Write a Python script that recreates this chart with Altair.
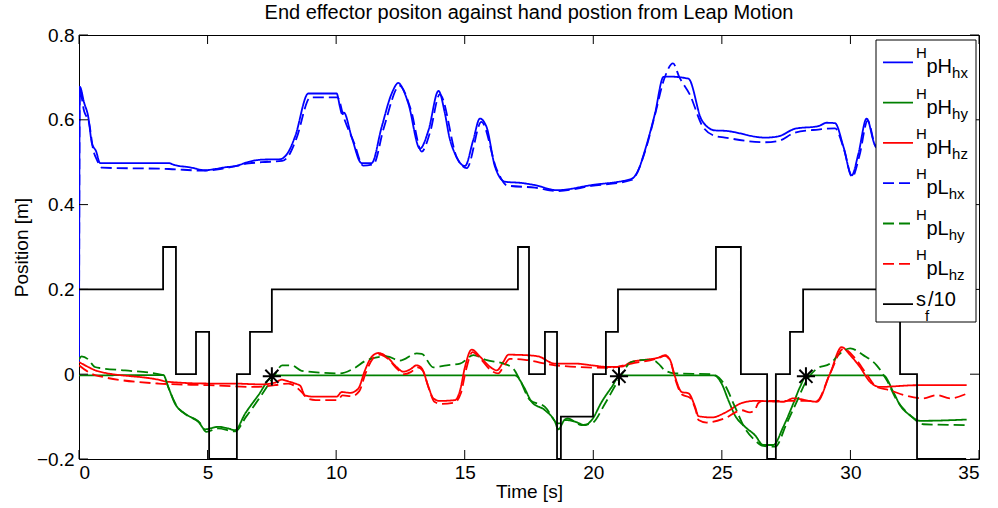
import altair as alt
import pandas as pd

# ---------------- data ----------------
t_pH_hx = [0, 0.03, 0.2, 0.36, 0.5, 0.56, 0.65, 0.82, 3.47, 3.73, 4.3, 4.9, 5.3, 5.68, 6.1, 6.6, 7.1, 7.8,
           8.14, 8.4, 8.92, 10.02, 10.15, 10.22, 10.3, 10.6, 10.99, 11.38, 11.77, 12.16, 12.42, 12.6, 12.81,
           13.26, 13.59, 13.98, 14.23, 14.4, 14.62, 15.01, 15.33, 15.59, 15.85, 16.18, 16.57, 17.21, 17.73,
           18.58, 19.93, 21.49, 21.75, 22.01, 22.4, 22.73, 22.92, 23.7, 24.22, 24.73, 25.12, 26.68, 27.2,
           27.85, 28.75, 29.08, 29.4, 29.73, 30.05, 30.31, 30.63, 30.96, 31.5, 32.5, 33.5, 34.5]
v_pH_hx = [0.03, 0.678, 0.64, 0.607, 0.545, 0.536, 0.528, 0.498, 0.498, 0.493, 0.488, 0.481, 0.484, 0.488,
           0.491, 0.501, 0.506, 0.507, 0.524, 0.56, 0.662, 0.662, 0.63, 0.615, 0.617, 0.56, 0.498, 0.498,
           0.583, 0.662, 0.687, 0.672, 0.638, 0.532, 0.575, 0.668, 0.615, 0.56, 0.52, 0.491, 0.552, 0.603,
           0.583, 0.489, 0.454, 0.451, 0.446, 0.434, 0.446, 0.461, 0.481, 0.528, 0.615, 0.701, 0.702, 0.697,
           0.599, 0.575, 0.574, 0.558, 0.561, 0.579, 0.585, 0.593, 0.592, 0.536, 0.469, 0.52, 0.603, 0.54,
           0.52, 0.51, 0.5, 0.5]

t_pL_hx = [0, 0.03, 0.2, 0.4, 0.55, 0.7, 0.9, 3.5, 4.9, 5.7, 6.6, 7.1, 7.9, 8.2, 8.45, 9.0, 10.05, 10.3,
           10.7, 11.05, 11.45, 11.85, 12.47, 12.9, 13.33, 13.65, 14.03, 14.7, 15.08, 15.65, 16.25, 16.65,
           17.73, 18.58, 19.93, 21.49, 22.01, 22.4, 22.75, 23.1, 23.35, 23.75, 24.25, 24.73, 25.12, 26.68,
           27.2, 27.85, 28.75, 29.4, 29.75, 30.07, 30.35, 30.67, 31.0, 34.5]
v_pL_hx = [0.03, 0.67, 0.62, 0.59, 0.53, 0.505, 0.487, 0.484, 0.48, 0.486, 0.497, 0.5, 0.503, 0.52, 0.555,
           0.653, 0.653, 0.605, 0.545, 0.492, 0.495, 0.58, 0.68, 0.625, 0.525, 0.57, 0.66, 0.51, 0.486,
           0.595, 0.482, 0.445, 0.44, 0.432, 0.444, 0.458, 0.525, 0.612, 0.695, 0.733, 0.7, 0.66, 0.585,
           0.562, 0.558, 0.547, 0.55, 0.57, 0.577, 0.58, 0.53, 0.465, 0.515, 0.598, 0.535, 0.5]

t_pH_hy = [0, 3.28, 3.47, 3.73, 4.12, 4.64, 4.9, 5.1, 5.42, 5.8, 6.07, 6.46, 6.97, 7.49, 7.62, 16.96, 17.3,
           17.6, 18.12, 18.51, 18.64, 18.9, 19.29, 19.68, 19.94, 20.33, 20.72, 21.04, 24.7, 24.99, 25.25,
           25.51, 25.9, 26.29, 26.61, 27.0, 27.39, 27.78, 28.04, 28.3, 31.28, 31.67, 31.93, 32.32, 32.71, 34.52]
v_pH_hy = [-0.003, -0.002, -0.03, -0.069, -0.093, -0.112, -0.13, -0.128, -0.124, -0.128, -0.132, -0.093,
           -0.05, -0.006, -0.003, -0.003, -0.03, -0.065, -0.085, -0.112, -0.13, -0.108, -0.112, -0.12,
           -0.108, -0.065, -0.03, -0.003, -0.003, -0.022, -0.061, -0.097, -0.124, -0.144, -0.167, -0.167,
           -0.124, -0.069, -0.03, -0.003, -0.003, -0.042, -0.073, -0.097, -0.11, -0.107]

t_pL_hy = [0, 0.1, 0.36, 0.62, 0.88, 1.79, 3.28, 3.5, 3.8, 4.2, 4.7, 4.95, 5.4, 6.07, 6.5, 7.0, 7.36, 7.6,
           7.9, 8.27, 8.66, 10.15, 10.67, 11.19, 11.97, 12.48, 13.13, 13.33, 13.78, 14.3, 14.82, 15.34,
           15.86, 16.5, 16.89, 17.15, 17.54, 18.12, 18.64, 19.0, 19.55, 19.94, 20.46, 20.98, 21.49, 22.01,
           22.4, 22.53, 22.79, 23.18, 24.61, 25.12, 25.51, 25.9, 26.29, 26.61, 27.07, 27.52, 27.91, 28.3,
           28.69, 29.21, 29.6, 29.99, 30.5, 31.02, 31.41, 31.8, 32.32, 32.84, 34.52]
v_pL_hy = [0.035, 0.042, 0.035, 0.017, 0.014, 0.009, -0.002, -0.035, -0.075, -0.097, -0.115, -0.136, -0.128,
           -0.135, -0.1, -0.058, -0.025, -0.003, 0.021, 0.021, 0.008, 0.002, 0.013, 0.033, 0.042, 0.032,
           0.049, 0.048, 0.016, 0.021, 0.025, 0.045, 0.033, 0.025, 0.013, -0.014, -0.061, -0.077, -0.116,
           -0.104, -0.12, -0.116, -0.069, -0.014, 0.029, 0.034, 0.031, 0.025, 0.009, 0.002, 0.0, -0.026,
           -0.077, -0.128, -0.156, -0.169, -0.171, -0.116, -0.065, -0.014, 0.013, 0.025, 0.049, 0.061,
           0.045, 0.021, -0.014, -0.061, -0.097, -0.118, -0.12]

t_pH_hz = [0, 0.36, 0.69, 3.09, 3.47, 5.03, 5.94, 7.1, 7.62, 7.88, 8.2, 8.4, 8.6, 8.79, 9.11, 10.02, 10.22,
           10.54, 10.86, 11.12, 11.38, 11.64, 11.97, 12.35, 12.61, 12.87, 13.13, 13.33, 13.59, 13.78, 14.04,
           14.63, 14.82, 15.01, 15.27, 15.6, 15.99, 16.25, 16.5, 16.7, 17.34, 17.86, 18.51, 19.29, 19.94,
           20.59, 21.1, 21.49, 22.01, 22.53, 22.79, 22.99, 23.18, 23.44, 23.7, 23.96, 24.09, 24.61, 25.12,
           25.77, 26.29, 27.39, 27.78, 28.69, 29.21, 29.66, 29.99, 30.37, 30.76, 31.15, 32.58, 34.52]
v_pH_hz = [0.029, 0.017, 0.008, -0.013, -0.018, -0.022, -0.022, -0.024, -0.02, -0.013, -0.018, -0.022,
           -0.027, -0.05, -0.053, -0.053, -0.042, -0.044, -0.034, 0.009, 0.041, 0.05, 0.041, 0.017, 0.006,
           0.011, 0.021, 0.014, -0.03, -0.057, -0.063, -0.061, -0.038, 0.017, 0.058, 0.041, 0.017, 0.009,
           0.029, 0.046, 0.045, 0.042, 0.025, 0.025, 0.021, 0.017, 0.018, 0.029, 0.034, 0.039, 0.045, 0.033,
           -0.006, -0.042, -0.045, -0.077, -0.099, -0.102, -0.091, -0.068, -0.063, -0.065, -0.057, -0.065,
           0.002, 0.064, 0.045, 0.017, -0.018, -0.03, -0.026, -0.026]

t_pL_hz = [0, 0.62, 3.09, 5.03, 6.84, 7.62, 8.14, 8.66, 8.9, 9.2, 10.05, 10.25, 10.6, 10.9, 11.15, 11.42,
           11.7, 12.0, 12.4, 12.65, 12.9, 13.17, 13.37, 13.63, 13.82, 14.08, 14.6, 14.85, 15.05, 15.3, 15.63,
           16.0, 16.3, 16.55, 16.75, 17.34, 18.51, 20.59, 21.49, 22.53, 22.79, 23.0, 23.2, 23.45, 23.75,
           24.0, 24.09, 24.41, 25.12, 25.77, 26.09, 26.29, 26.42, 26.6, 27.39, 28.69, 29.21, 29.73, 30.24,
           30.63, 31.02, 31.54, 32.06, 32.84, 33.36, 33.87, 34.52]
v_pL_hz = [0.021, -0.002, -0.022, -0.026, -0.03, -0.026, -0.022, -0.042, -0.058, -0.061, -0.061, -0.05,
           -0.052, -0.04, 0.003, 0.036, 0.046, 0.037, 0.011, 0.0, 0.005, 0.016, 0.008, -0.038, -0.065,
           -0.07, -0.067, -0.045, 0.01, 0.052, 0.035, 0.01, 0.002, 0.022, 0.036, 0.034, 0.021, 0.015, 0.025,
           0.038, 0.043, 0.03, -0.014, -0.048, -0.055, -0.088, -0.108, -0.114, -0.104, -0.085, -0.09, -0.083,
           -0.068, -0.063, -0.063, -0.063, 0.002, 0.06, 0.033, 0.0, -0.03, -0.038, -0.049, -0.057, -0.049,
           -0.057, -0.046]

# s_f/10 step signal (value holds until next change time)
t_sf = [0, 3.27, 3.77, 4.55, 5.06, 6.14, 6.65, 7.5, 17.07, 17.5, 18.12, 18.59, 18.74, 19.99, 20.49, 20.96,
        24.77, 25.74, 26.76, 27.1, 27.65, 28.16, 31.93, 32.59, 34.5]
v_sf = [0.2, 0.3, 0.0, 0.1, -0.2, 0.0, 0.1, 0.2, 0.3, 0.0, 0.1, -0.2, -0.1, 0.0, 0.1, 0.2, 0.3, 0.0, -0.2,
        0.0, 0.1, 0.2, 0.0, -0.2, -0.2]

# event markers
t_star = [7.5, 21.0, 28.27]
v_star = [-0.005, -0.005, -0.005]

x_ticks = [0, 5, 10, 15, 20, 25, 30, 35]
y_ticks = [-0.2, 0, 0.2, 0.4, 0.6, 0.8]

series = ["pH_hx", "pH_hy", "pH_hz", "pL_hx", "pL_hy", "pL_hz", "sf"]
leg_sup = ["H", "H", "H", "H", "H", "H", ""]
leg_base = ["pH", "pH", "pH", "pL", "pL", "pL", "s"]
leg_sub = ["hx", "hy", "hz", "hx", "hy", "hz", "f"]
leg_tail = ["", "", "", "", "", "", "/10"]

title_text = "End effector positon against hand postion from Leap Motion"
x_title = "Time [s]"
y_title = "Position [m]"

# ---------------- styling ----------------
W, H = 900, 424
FONT = "Liberation Sans"
colors = ["#0000ff", "#008000", "#ff0000", "#0000ff", "#008000", "#ff0000", "#000000"]
dashes = [[1, 0], [1, 0], [1, 0], [11, 5], [11, 5], [11, 5], [1, 0]]
LW = 1.8

series_data = {
    "pH_hx": (t_pH_hx, v_pH_hx), "pH_hy": (t_pH_hy, v_pH_hy), "pH_hz": (t_pH_hz, v_pH_hz),
    "pL_hx": (t_pL_hx, v_pL_hx), "pL_hy": (t_pL_hy, v_pL_hy), "pL_hz": (t_pL_hz, v_pL_hz),
}
rows = []
for name, (ts, vs) in series_data.items():
    for i, (tt, vv) in enumerate(zip(ts, vs)):
        rows.append({"t": tt, "v": vv, "series": name, "k": i})
df_lines = pd.DataFrame(rows)
df_sf = pd.DataFrame({"t": t_sf, "v": v_sf, "series": "sf"})
df_star = pd.DataFrame({"t": t_star, "v": v_star})

xscale = alt.Scale(domain=[0, 35], nice=False, zero=False)
yscale = alt.Scale(domain=[-0.2, 0.8], nice=False, zero=False)
xaxis = alt.Axis(values=x_ticks, format="d", title=x_title, domain=False, ticks=False, tickSize=0,
                 grid=False, labelPadding=4, titleY=38, titleBaseline="alphabetic")
yaxis = alt.Axis(values=y_ticks, labelExpr="datum.value == 0 ? '0' : format(datum.value, '.1f')",
                 title=y_title, domain=False, ticks=False, tickSize=0, grid=False, labelPadding=5,
                 titleAngle=-90, titleX=-52, titleY=H / 2, titleAlign="center", titleBaseline="alphabetic")
X = alt.X("t:Q", scale=xscale, axis=xaxis)
Y = alt.Y("v:Q", scale=yscale, axis=yaxis)
color_enc = alt.Color("series:N", scale=alt.Scale(domain=series, range=colors), legend=None)
dash_enc = alt.StrokeDash("series:N", scale=alt.Scale(domain=series, range=dashes), legend=None)

lines = alt.Chart(df_lines).mark_line(strokeWidth=LW, clip=True, interpolate="monotone").encode(
    x=X, y=Y, color=color_enc, strokeDash=dash_enc, detail="series:N", order="k:Q")
step = alt.Chart(df_sf).mark_line(strokeWidth=LW, clip=True, interpolate="step-after").encode(
    x=X, y=Y, color=color_enc)
star_path = "M-1,0L1,0M0,-1L0,1M-0.72,-0.72L0.72,0.72M-0.72,0.72L0.72,-0.72"
stars = alt.Chart(df_star).mark_point(shape=star_path, size=330, filled=False, color="black", opacity=1,
                                      strokeWidth=2).encode(x=X, y=Y)

df_xt = pd.DataFrame({"t": x_ticks})
df_yt = pd.DataFrame({"v": y_ticks})
TL = 9
tick_b = alt.Chart(df_xt).mark_rule(color="black", strokeWidth=1).encode(x=X, y=alt.value(H), y2=alt.value(H - TL))
tick_t = alt.Chart(df_xt).mark_rule(color="black", strokeWidth=1).encode(x=X, y=alt.value(0), y2=alt.value(TL))
tick_l = alt.Chart(df_yt).mark_rule(color="black", strokeWidth=1).encode(y=Y, x=alt.value(0), x2=alt.value(TL))
tick_r = alt.Chart(df_yt).mark_rule(color="black", strokeWidth=1).encode(y=Y, x=alt.value(W), x2=alt.value(W - TL))

# ---------------- legend (inside plot, top right) ----------------
LX0, LX1, LY0, LY1 = 797, 897, 5, 287
ROW0, ROWD = 27.3, 40.3
MAIN_FS, SMALL_FS = 20, 15
widths = {"pH": 1.278, "pL": 1.112, "s": 0.5}

leg_rect = alt.Chart(pd.DataFrame({"a": [0]})).mark_rect(fill="white", stroke="black", strokeWidth=1).encode(
    x=alt.value(LX0), x2=alt.value(LX1), y=alt.value(LY0), y2=alt.value(LY1))

df_leg = pd.DataFrame({"series": series, "py": [ROW0 + ROWD * i for i in range(len(series))]})
leg_lines = alt.Chart(df_leg).mark_rule(strokeWidth=LW).encode(
    x=alt.value(LX0 + 7), x2=alt.value(LX0 + 37), y=alt.Y("py:Q", scale=None),
    color=color_enc, strokeDash=dash_enc)

pieces = []
for i in range(len(series)):
    py = ROW0 + ROWD * i
    if leg_sup[i]:
        x = LX0 + 40
        pieces.append({"text": leg_sup[i], "px": x, "py": py - 4, "fs": SMALL_FS})
        x += 10.5
        pieces.append({"text": leg_base[i], "px": x, "py": py + 11, "fs": MAIN_FS})
        x += widths[leg_base[i]] * MAIN_FS
        pieces.append({"text": leg_sub[i], "px": x, "py": py + 16, "fs": SMALL_FS})
    else:
        x = LX0 + 40
        pieces.append({"text": leg_base[i], "px": x, "py": py + 2, "fs": MAIN_FS})
        x += widths[leg_base[i]] * MAIN_FS
        pieces.append({"text": leg_sub[i], "px": x - 1, "py": py + 17, "fs": SMALL_FS})
        x += 2
        pieces.append({"text": leg_tail[i], "px": x, "py": py + 2, "fs": MAIN_FS})
df_pieces = pd.DataFrame(pieces)
leg_text = alt.Chart(df_pieces).mark_text(align="left", baseline="alphabetic", font=FONT, color="black").encode(
    x=alt.X("px:Q", scale=None), y=alt.Y("py:Q", scale=None), text="text:N", size=alt.Size("fs:Q", scale=None))

chart = alt.layer(
    lines, step, tick_b, tick_t, tick_l, tick_r, stars, leg_rect, leg_lines, leg_text
).properties(
    width=W, height=H,
    title=alt.TitleParams(title_text, font=FONT, fontSize=20, fontWeight="normal", anchor="middle",
                          baseline="alphabetic", offset=4, dy=17, color="black"),
    autosize=alt.AutoSizeParams(type="none"),
    padding={"left": 79, "top": 35, "right": 19, "bottom": 49},
    background="white",
).configure_view(
    stroke="black", strokeWidth=1
).configure_axis(
    labelFont=FONT, labelFontSize=19, labelColor="black", titleFont=FONT, titleFontSize=19,
    titleFontWeight="normal", titleColor="black"
)

chart.save("out.html", embed_options={"renderer": "svg", "actions": False})
